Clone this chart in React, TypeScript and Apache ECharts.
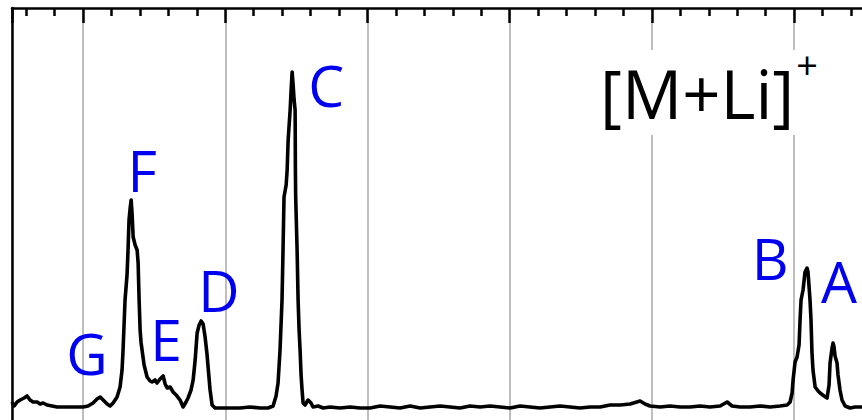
import React, { useEffect, useRef } from "react";
import * as echarts from "echarts";

// Spectrum trace (x in axis units, y = relative intensity)
const traceX = [
  5.0, 5.15, 5.36, 5.57, 5.85, 6.06, 6.27, 6.48, 6.77, 6.98, 7.19, 7.47, 7.82, 8.17, 8.73, 9.44, 10.0,
  10.35, 10.7, 10.98, 11.2, 11.41, 11.69, 11.9, 12.11, 12.39, 12.6, 12.74, 12.81, 12.95, 13.09, 13.16,
  13.23, 13.31, 13.38, 13.45, 13.52, 13.66, 13.8, 13.87, 13.94, 14.01, 14.08, 14.29, 14.5, 14.71, 14.85,
  15.06, 15.2, 15.41, 15.63, 15.77, 15.91, 16.12, 16.33, 16.54, 16.82, 17.03, 17.24, 17.38, 17.59, 17.74,
  17.88, 18.02, 18.16, 18.3, 18.44, 18.58, 18.72, 18.79, 18.93, 19.07, 19.28, 19.63, 20.34, 21.04, 21.74,
  22.45, 23.01, 23.36, 23.57, 23.71, 23.85, 23.99, 24.06, 24.13, 24.28, 24.35, 24.42, 24.56, 24.63, 24.7,
  24.77, 24.84, 24.91, 24.93, 24.95, 24.98, 25.05, 25.12, 25.19, 25.26, 25.33, 25.4, 25.47, 25.61, 25.82,
  26.03, 26.17, 26.53, 26.88, 27.37, 28.07, 28.78, 29.48, 30.18, 30.89, 31.59, 32.29, 33.0, 33.7, 34.4,
  35.11, 35.81, 36.51, 37.21, 37.92, 38.62, 39.32, 40.03, 40.73, 41.43, 42.13, 42.84, 43.54, 44.25, 44.95,
  45.65, 46.36, 47.06, 47.76, 48.47, 49.17, 49.52, 49.87, 50.58, 51.28, 51.98, 52.69, 53.39, 54.09, 54.8,
  55.29, 55.64, 56.2, 56.9, 57.61, 58.31, 59.01, 59.51, 59.72, 59.86, 59.93, 60.07, 60.21, 60.35, 60.42,
  60.49, 60.63, 60.77, 60.91, 60.98, 61.12, 61.19, 61.26, 61.33, 61.48, 61.69, 61.83, 62.11, 62.32, 62.46,
  62.53, 62.67, 62.74, 62.81, 62.88, 63.02, 63.09, 63.23, 63.37, 63.59, 63.94, 64.29, 64.78, 65.35, 65.98,
];
const traceY = [
  4.37, 3.4, 4.37, 4.85, 5.34, 5.83, 4.85, 4.37, 4.37, 3.88, 4.13, 3.64, 3.4, 3.16, 3.16, 3.16, 3.16,
  3.4, 4.13, 5.1, 5.58, 4.85, 3.88, 3.4, 4.13, 5.58, 8.01, 12.14, 16.99, 29.13, 35.19, 41.26,
  48.54, 51.46, 53.4, 49.76, 44.42, 42.48, 41.26, 38.11, 29.13, 21.84, 18.69, 13.35, 10.44, 9.47, 9.22,
  9.71, 8.98, 9.95, 10.68, 8.74, 7.77, 8.01, 6.8, 6.07, 4.85, 3.16, 4.37, 5.34, 7.28, 9.71,
  14.56, 21.12, 23.06, 24.03, 23.3, 20.15, 15.78, 12.86, 7.28, 3.64, 2.91, 2.91, 2.91, 2.91, 3.16,
  2.91, 2.91, 3.4, 5.83, 8.98, 16.99, 29.13, 41.26, 54.13, 57.04, 60.68, 67.96, 75.24, 80.1, 84.47,
  81.31, 77.67, 75.24, 60.68, 54.13, 50.24, 41.26, 29.13, 21.84, 16.99, 10.92, 7.28, 4.13, 3.64, 4.85,
  4.13, 3.16, 3.4, 2.91, 3.16, 2.91, 3.16, 2.91, 2.91, 3.4, 3.16, 2.91, 3.4, 2.91, 3.16,
  3.4, 3.16, 2.91, 3.4, 3.16, 3.4, 3.16, 2.91, 3.4, 3.16, 2.91, 3.16, 3.4, 3.16, 2.91,
  3.16, 3.16, 3.64, 3.64, 3.88, 4.61, 3.88, 3.4, 3.16, 3.4, 3.16, 3.16, 3.4, 3.16, 3.4,
  4.37, 3.4, 3.16, 3.16, 3.4, 3.16, 3.4, 3.64, 4.37, 6.55, 9.71, 14.08, 15.29, 18.2, 24.27,
  29.13, 31.55, 35.92, 36.89, 35.92, 29.13, 24.27, 16.26, 12.14, 8.01, 7.04, 6.55, 5.83, 5.34, 8.5,
  13.83, 17.48, 18.69, 17.72, 15.53, 13.83, 10.92, 7.28, 4.85, 3.4, 2.91, 3.16, 3.16, 3.4, 3.16,
];

// Peak annotations
const peakNames = ["G", "F", "E", "D", "C", "B", "A"];
const peakLabelX = [10.28, 14.15, 15.84, 19.56, 27.09, 58.31, 63.16];
const peakLabelY = [16.26, 60.68, 19.66, 31.55, 81.31, 39.32, 33.74];

const ionText = "[M+Li]";
const ionCharge = "+";

export default function App() {
  const ref = useRef<HTMLDivElement>(null);

  useEffect(() => {
    if (!ref.current) return;
    const chart = echarts.init(ref.current, null, { renderer: "svg" });
    const lineData = traceX.map((x, i) => [x, traceY[i]]);
    const labelData = peakNames.map((n, i) => ({ name: n, value: [peakLabelX[i], peakLabelY[i]] }));

    chart.setOption({
      animation: false,
      backgroundColor: "#ffffff",
      grid: {
        left: 12,
        top: 8,
        width: 867.4,
        height: 412,
        containLabel: false,
        outerBoundsMode: "none",
      },
      xAxis: {
        type: "value",
        position: "top",
        min: 5,
        max: 66,
        splitNumber: 6,
        axisLine: { show: true, onZero: false, lineStyle: { color: "#000", width: 2.5 } },
        axisTick: { show: true, inside: true, length: 15, lineStyle: { color: "#000", width: 2.5 } },
        minorTick: { show: true, splitNumber: 5, length: 8, lineStyle: { color: "#000", width: 2.5 } },
        axisLabel: { show: false },
        splitLine: { show: true, lineStyle: { color: "#a8a8a8", width: 1.5 } },
      },
      yAxis: {
        type: "value",
        min: 0,
        max: 100,
        axisLine: { show: true, onZero: false, lineStyle: { color: "#000", width: 2.5 } },
        axisTick: { show: false },
        axisLabel: { show: false },
        splitLine: { show: false },
      },
      graphic: [
        {
          type: "rect",
          z: 100,
          shape: { x: 590, y: 50, width: 240, height: 85 },
          style: { fill: "#ffffff" },
        },
        {
          type: "text",
          z: 101,
          x: 600,
          y: 93,
          style: {
            text: ionText,
            fill: "#000",
            font: "67px 'Open Sans'",
            align: "left",
            verticalAlign: "middle",
          },
        },
        {
          type: "text",
          z: 101,
          x: 807,
          y: 64,
          style: {
            text: ionCharge,
            fill: "#000",
            font: "38px 'Open Sans'",
            align: "center",
            verticalAlign: "middle",
          },
        },
      ],
      series: [
        {
          type: "line",
          data: lineData,
          showSymbol: false,
          symbol: "none",
          lineStyle: { color: "#000", width: 3.6, join: "round" },
          z: 5,
        },
        {
          type: "scatter",
          data: labelData,
          symbolSize: 1,
          itemStyle: { color: "#ffffff", opacity: 0 },
          label: {
            show: true,
            position: "inside",
            formatter: "{b}",
            color: "#0000f0",
            opacity: 1,
            fontFamily: "Open Sans",
            fontSize: 57,
          },
          emphasis: { disabled: true },
          z: 6,
        },
      ],
    });
    return () => chart.dispose();
  }, []);

  return (
    <div
      ref={ref}
      style={{ position: "absolute", left: 0, top: 0, width: 862, height: 420, background: "#fff" }}
    />
  );
}
